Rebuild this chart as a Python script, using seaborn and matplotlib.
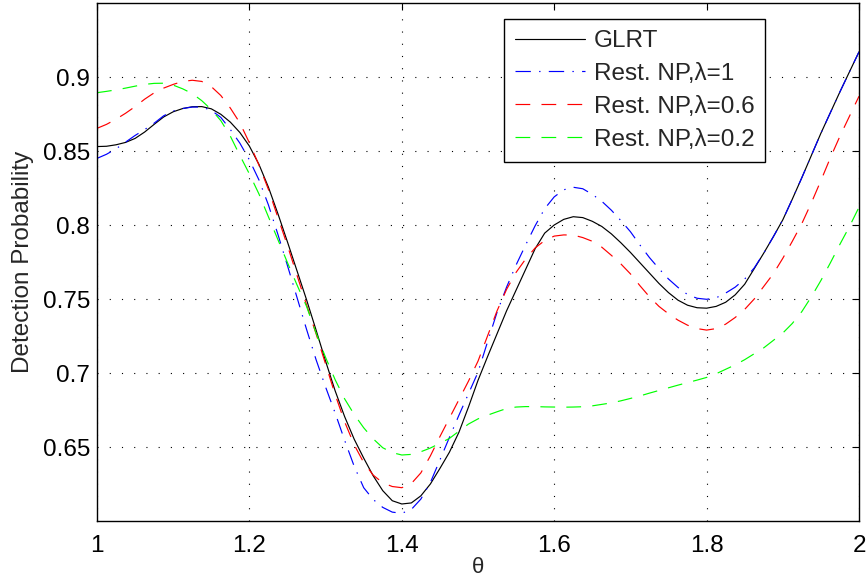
import numpy as np
import pandas as pd
import seaborn as sns
import matplotlib
matplotlib.use("Agg")
import matplotlib.pyplot as plt

theta = [round(1.0 + 0.0125 * i, 4) for i in range(81)]

glrt = [0.8530, 0.8532, 0.8542, 0.8558, 0.8585, 0.8628, 0.8680, 0.8730, 0.8765, 0.8787,
        0.8799, 0.8800, 0.8785, 0.8748, 0.8695, 0.8625, 0.8533, 0.8410, 0.8255, 0.8075,
        0.7885, 0.7690, 0.7495, 0.7290, 0.7080, 0.6880, 0.6705, 0.6553, 0.6425, 0.6305,
        0.6205, 0.6137, 0.6115, 0.6122, 0.6170, 0.6250, 0.6355, 0.6465, 0.6600, 0.6770,
        0.6950, 0.7110, 0.7265, 0.7420, 0.7560, 0.7700, 0.7840, 0.7945, 0.8000, 0.8038,
        0.8056, 0.8050, 0.8025, 0.7990, 0.7940, 0.7880, 0.7815, 0.7745, 0.7675, 0.7605,
        0.7543, 0.7492, 0.7458, 0.7441, 0.7438, 0.7450, 0.7478, 0.7528, 0.7600, 0.7705,
        0.7810, 0.7920, 0.8035, 0.8175, 0.8320, 0.8470, 0.8620, 0.8760, 0.8900, 0.9035,
        0.9170]

np_l1 = [0.8450, 0.8478, 0.8515, 0.8560, 0.8605, 0.8645, 0.8688, 0.8738, 0.8770, 0.8787,
         0.8797, 0.8797, 0.8775, 0.8727, 0.8645, 0.8553, 0.8440, 0.8305, 0.8135, 0.7935,
         0.7725, 0.7510, 0.7295, 0.7090, 0.6905, 0.6730, 0.6545, 0.6370, 0.6225, 0.6145,
         0.6092, 0.6060, 0.6052, 0.6078, 0.6148, 0.6260, 0.6412, 0.6565, 0.6715, 0.6860,
         0.7005, 0.7210, 0.7410, 0.7580, 0.7730, 0.7865, 0.7995, 0.8110, 0.8190, 0.8238,
         0.8255, 0.8245, 0.8207, 0.8160, 0.8100, 0.8030, 0.7955, 0.7865, 0.7780, 0.7705,
         0.7635, 0.7578, 0.7530, 0.7505, 0.7498, 0.7508, 0.7540, 0.7580, 0.7635, 0.7710,
         0.7810, 0.7920, 0.8035, 0.8175, 0.8320, 0.8470, 0.8620, 0.8760, 0.8900, 0.9035,
         0.9170]

np_l06 = [0.8653, 0.8680, 0.8715, 0.8755, 0.8800, 0.8850, 0.8893, 0.8925, 0.8950, 0.8970,
          0.8978, 0.8970, 0.8935, 0.8875, 0.8790, 0.8690, 0.8555, 0.8405, 0.8240, 0.8050,
          0.7860, 0.7660, 0.7460, 0.7265, 0.7060, 0.6855, 0.6670, 0.6515, 0.6395, 0.6310,
          0.6258, 0.6233, 0.6225, 0.6253, 0.6325, 0.6440, 0.6570, 0.6695, 0.6820, 0.6945,
          0.7080, 0.7250, 0.7420, 0.7565, 0.7680, 0.7770, 0.7845, 0.7895, 0.7925, 0.7933,
          0.7932, 0.7915, 0.7890, 0.7850, 0.7795, 0.7737, 0.7670, 0.7590, 0.7515, 0.7450,
          0.7400, 0.7357, 0.7323, 0.7300, 0.7290, 0.7300, 0.7330, 0.7375, 0.7430, 0.7500,
          0.7585, 0.7670, 0.7775, 0.7890, 0.8010, 0.8150, 0.8300, 0.8455, 0.8600, 0.8735,
          0.8870]

np_l02 = [0.8894, 0.8903, 0.8913, 0.8925, 0.8938, 0.8950, 0.8957, 0.8958, 0.8945, 0.8920,
          0.8888, 0.8840, 0.8780, 0.8705, 0.8600, 0.8470, 0.8345, 0.8210, 0.8055, 0.7900,
          0.7745, 0.7595, 0.7450, 0.7270, 0.7105, 0.6955, 0.6825, 0.6720, 0.6630, 0.6555,
          0.6495, 0.6462, 0.6446, 0.6450, 0.6468, 0.6493, 0.6525, 0.6558, 0.6607, 0.6655,
          0.6690, 0.6715, 0.6738, 0.6760, 0.6770, 0.6773, 0.6773, 0.6771, 0.6770, 0.6769,
          0.6770, 0.6772, 0.6778, 0.6788, 0.6798, 0.6812, 0.6828, 0.6845, 0.6864, 0.6882,
          0.6900, 0.6918, 0.6935, 0.6952, 0.6970, 0.6995, 0.7025, 0.7055, 0.7090, 0.7130,
          0.7170, 0.7220, 0.7270, 0.7335, 0.7415, 0.7515, 0.7625, 0.7745, 0.7870, 0.7990,
          0.8120]

labels = ["GLRT", "Rest. NP,λ=1", "Rest. NP,λ=0.6", "Rest. NP,λ=0.2"]
xticks = [1, 1.2, 1.4, 1.6, 1.8, 2]
xticklabels = ["1", "1.2", "1.4", "1.6", "1.8", "2"]
yticks = [0.65, 0.7, 0.75, 0.8, 0.85, 0.9]
yticklabels = ["0.65", "0.7", "0.75", "0.8", "0.85", "0.9"]

sns.set_theme(style="white")
plt.rcParams["font.family"] = ["Liberation Sans", "DejaVu Sans"]

fig = plt.figure(figsize=(8.68, 5.81), dpi=100)
ax = fig.add_axes([97 / 868, 60 / 581, 762 / 868, 518 / 581])

series = [glrt, np_l1, np_l06, np_l02]
colors = ["black", "#0000ff", "#ff0000", "#00ff00"]
dash_styles = [None, (13, 7, 1.2, 7), (12.5, 9.5), (12.5, 9.5)]

for vals, lab, col, dsh in zip(series, labels, colors, dash_styles):
    df = pd.DataFrame({"theta": theta, "pd": vals})
    sns.lineplot(data=df, x="theta", y="pd", ax=ax, color=col, label=lab,
                 linewidth=0.85)
    line = ax.lines[-1]
    if dsh is not None:
        line.set_dashes(dsh)

ax.set_xlim(1, 2)
ax.set_ylim(0.6, 0.95)
ax.set_xticks(xticks)
ax.set_xticklabels(xticklabels)
ax.set_yticks(yticks)
ax.set_yticklabels(yticklabels)
ax.set_xlabel("θ", fontsize=16, labelpad=0)
ax.set_ylabel("Detection Probability", fontsize=17.5, labelpad=6)
ax.tick_params(axis="both", which="major", direction="in", length=5, width=0.8,
               labelsize=17.5, top=True, right=True, colors="black")
ax.tick_params(axis="x", pad=10)
ax.tick_params(axis="y", pad=5)

ax.grid(True, color="black", linestyle=(0, (1, 10)), linewidth=0.8)
for sp in ax.spines.values():
    sp.set_color("black")
    sp.set_linewidth(1.0)
    sp.set_visible(True)

leg = ax.legend(loc="upper right", bbox_to_anchor=(0.877, 0.969),
                borderaxespad=0, fontsize=17.5, handlelength=2.9,
                handletextpad=0.35, labelspacing=0.45, fancybox=False,
                framealpha=1, edgecolor="black", borderpad=0.45)
leg.get_frame().set_linewidth(1.0)

fig.savefig("out.png", dpi=100)
